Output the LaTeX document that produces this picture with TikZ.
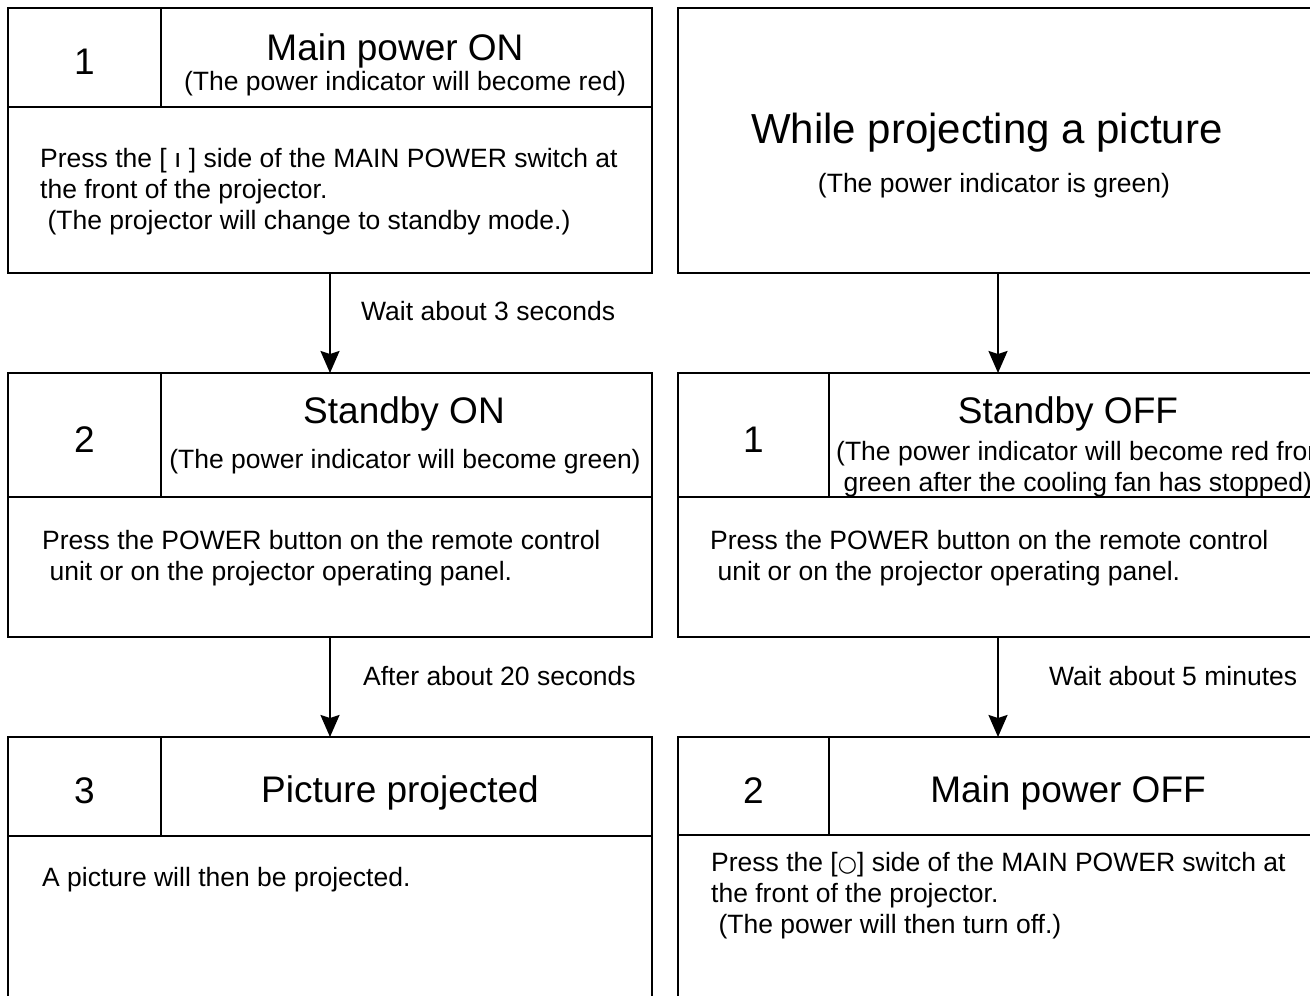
\documentclass[tikz,border=0pt]{standalone}
\usepackage{fontspec}
\setmainfont{Liberation Sans}
\newfontfamily\circfont{DejaVu Sans}
\usepackage{tikz}
\usetikzlibrary{arrows.meta,positioning}
\newcommand{\numsize}{\fontsize{37pt}{44pt}\selectfont}
\newcommand{\headsize}{\fontsize{37pt}{44pt}\selectfont}
\newcommand{\bigsize}{\fontsize{42pt}{50pt}\selectfont}
\newcommand{\bodysize}{\fontsize{26.5pt}{31pt}\selectfont}
\tikzstyle{arrow} = [line width=2pt, -{Stealth[length=22pt,width=19pt,inset=3pt]}]
\tikzstyle{stepframe} = [draw, line width=2.8pt, anchor=north west, inner sep=0pt, outer sep=0pt]
\tikzstyle{numcell} = [draw, line width=1.4pt, anchor=north west, inner sep=0pt, outer sep=0pt, text height=34pt, text depth=0pt, font=\numsize]
\tikzstyle{headcell} = [draw, line width=1.4pt, inner sep=0pt, outer sep=0pt]
\tikzstyle{headtext} = [anchor=base, inner sep=0pt, font=\headsize]
\tikzstyle{subtext} = [anchor=base, inner sep=0pt, font=\bodysize]
\tikzstyle{bodytext} = [anchor=base west, inner sep=0pt, align=left, font=\bodysize]
\tikzstyle{waitlabel} = [anchor=base west, inner sep=0pt, font=\bodysize]

\begin{document}
\begin{tikzpicture}[x=1pt, y=-1pt]
\clip (0,0) rectangle (1310,996);

% Power on, left column
\node[numcell, minimum width=153pt, minimum height=99pt] (n1) at (8,8) {1};
\node[headcell, minimum width=491pt, minimum height=99pt, right=0pt of n1] (h1) {};
\node[stepframe, minimum width=644pt, minimum height=265pt] (b1) at (8,8) {};
\node[headtext] (t1) at (395,60) {Main power ON};
\node[subtext] (s1) at (405,90.5) {(The power indicator will become red)};
\node[bodytext] (d1) at (40,229.5) {Press the [ ı ] side of the MAIN POWER switch at\\the front of the projector.\\\ (The projector will change to standby mode.)};

\node[numcell, minimum width=153pt, minimum height=124pt] (n2) at (8,373) {2};
\node[headcell, minimum width=491pt, minimum height=124pt, right=0pt of n2] (h2) {};
\node[stepframe, minimum width=644pt, minimum height=264pt] (b2) at (8,373) {};
\node[headtext] (t2) at (404,423) {Standby ON};
\node[subtext] (s2) at (405,468.5) {(The power indicator will become green)};
\node[bodytext] (d2) at (42,580.5) {Press the POWER button on the remote control\\\ unit or on the projector operating panel.};

\node[numcell, minimum width=153pt, minimum height=99pt] (n3) at (8,737) {3};
\node[headcell, minimum width=491pt, minimum height=99pt, right=0pt of n3] (h3) {};
\node[stepframe, minimum width=644pt, minimum height=300pt] (b3) at (8,737) {};
\node[headtext] (t3) at (400,802) {Picture projected};
\node[bodytext] (d3) at (42,886.5) {A picture will then be projected.};

% Power off, right column
\node[stepframe, minimum width=640pt, minimum height=265pt] (r1) at (678,8) {};
\node[headtext, font=\bigsize] (t4) at (987,143) {While projecting a picture};
\node[subtext] (s4) at (994,192.5) {(The power indicator is green)};

\node[numcell, minimum width=151pt, minimum height=124pt] (n5) at (678,373) {1};
\node[headcell, minimum width=489pt, minimum height=124pt, right=0pt of n5] (h5) {};
\node[stepframe, minimum width=640pt, minimum height=264pt] (r2) at (678,373) {};
\node[headtext] (t5) at (1068,423) {Standby OFF};
\node[bodytext] (s5) at (836,491.5) {(The power indicator will become red from\\\ green after the cooling fan has stopped)};
\node[bodytext] (d5) at (710,580.5) {Press the POWER button on the remote control\\\ unit or on the projector operating panel.};

\node[numcell, minimum width=151pt, minimum height=98pt] (n6) at (678,737) {2};
\node[headcell, minimum width=489pt, minimum height=98pt, right=0pt of n6] (h6) {};
\node[stepframe, minimum width=640pt, minimum height=300pt] (r3) at (678,737) {};
\node[headtext] (t6) at (1068,802) {Main power OFF};
\node[bodytext] (d6) at (711,933.5) {Press the [{\circfont\fontsize{22pt}{31pt}\selectfont ○}] side of the MAIN POWER switch at\\the front of the projector.\\\ (The power will then turn off.)};

% Arrows
\draw[arrow] (b1) -- (b2);
\draw[arrow] (b2) -- (b3);
\draw[arrow] (r1) -- (r2);
\draw[arrow] (r2) -- (r3);

% Labels
\node[waitlabel] (w1) at (361,320) {Wait about 3 seconds};
\node[waitlabel] (w2) at (363,685.5) {After about 20 seconds};
\node[waitlabel] (w3) at (1049,685.5) {Wait about 5 minutes};
\end{tikzpicture}
\end{document}
